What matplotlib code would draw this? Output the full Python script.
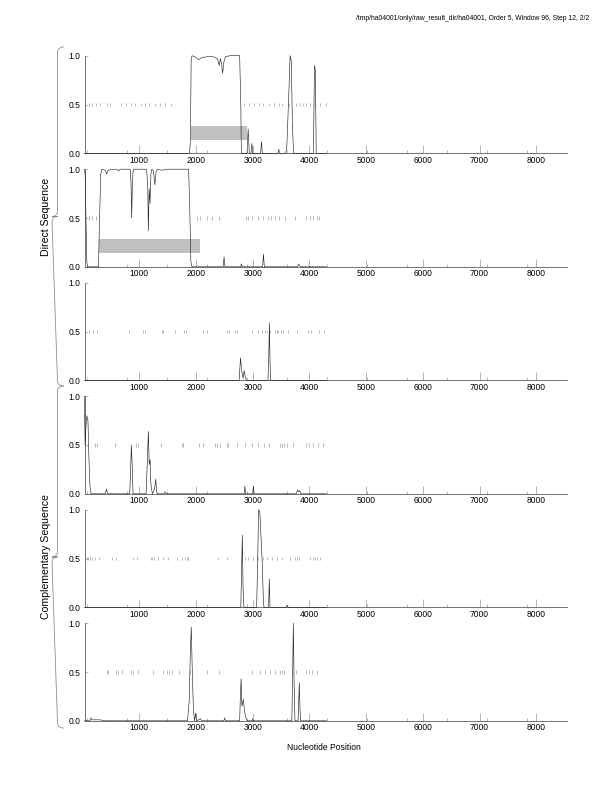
import numpy as np
import matplotlib
matplotlib.use("Agg")
import matplotlib.pyplot as plt

plt.rcParams['font.family'] = ['Liberation Sans', 'DejaVu Sans']

TITLE = "/tmp/ha04001/only/raw_result_dir/ha04001, Order 5, Window 96, Step 12, 2/2"
X_LABEL = "Nucleotide Position"
GROUP_LABELS = ["Direct Sequence", "Complementary Sequence"]
X_TICKS = [1000, 2000, 3000, 4000, 5000, 6000, 7000, 8000]
X_MINOR = [72, 778, 1483, 2189, 2894, 3600, 4305, 5011, 5716, 6422, 7127, 7833]
Y_TICKS = [0.0, 0.5, 1.0]

# coding potential curves (position, value), one per frame
p1_x = [30, 1880, 1900, 1915, 1930, 1980, 2050, 2100, 2200, 2300, 2380, 2410, 2430, 2450, 2470, 2490,
        2520, 2600, 2770, 2790, 2800, 2900, 2920, 2940, 2970, 2985, 3000, 3140, 3155, 3170, 3440, 3460,
        3480, 3580, 3600, 3630, 3660, 3680, 3700, 3720, 4070, 4090, 4105, 4120, 4300]
p1_y = [0, 0, 0.1, 0.95, 1.0, 0.99, 0.96, 0.98, 0.99, 0.99, 0.97, 0.9, 0.97, 0.92, 0.82, 0.93,
        0.99, 1.0, 1.0, 0.5, 0, 0, 0.25, 0, 0, 0.1, 0, 0, 0.12, 0, 0, 0.04,
        0, 0, 0.05, 0.5, 1.0, 0.95, 0.3, 0, 0, 0.9, 0.85, 0, 0]

p2_x = [30, 45, 60, 75, 90, 280, 300, 320, 340, 400, 425, 450, 600, 640, 660, 840, 855, 866, 880, 895,
        1130, 1150, 1160, 1175, 1190, 1205, 1220, 1250, 1275, 1295, 1320, 1400, 1500, 1870, 1890, 1910,
        1930, 2480, 2495, 2510, 2790, 2800, 2815, 3175, 3190, 3205, 3790, 3810, 3840, 4300]
p2_y = [1.0, 0.95, 0.5, 0.05, 0, 0, 0.5, 0.95, 1.0, 0.99, 0.95, 0.99, 1.0, 0.98, 1.0, 1.0, 0.85, 0.5, 0.9, 1.0,
        1.0, 0.8, 0.37, 0.8, 0.65, 0.95, 1.0, 0.98, 0.84, 0.97, 1.0, 0.99, 1.0, 1.0, 0.6, 0.05,
        0, 0, 0.1, 0, 0, 0.03, 0, 0, 0.13, 0, 0, 0.03, 0, 0]

p3_x = [30, 2760, 2785, 2805, 2830, 2850, 2870, 2890, 3270, 3285, 3295, 3305, 3315, 4300]
p3_y = [0, 0, 0.23, 0.1, 0.02, 0.1, 0.03, 0, 0, 0.3, 0.59, 0.2, 0, 0]

p4_x = [30, 45, 60, 75, 95, 110, 130, 150, 400, 420, 440, 830, 845, 860, 875, 890, 1120, 1140, 1160,
        1175, 1190, 1205, 1230, 1270, 1290, 1305, 1320, 1440, 1455, 1480, 2850, 2862, 2875, 3000, 3012,
        3025, 3770, 3790, 3810, 3830, 3850, 4300]
p4_y = [1.0, 0.5, 0.7, 0.8, 0.75, 0.4, 0.08, 0, 0, 0.05, 0, 0, 0.2, 0.5, 0.3, 0, 0, 0.3, 0.64,
        0.3, 0.35, 0.1, 0, 0.05, 0.15, 0.02, 0, 0, 0.02, 0, 0, 0.08, 0, 0, 0.08,
        0, 0, 0.04, 0.02, 0.03, 0, 0]

p5_x = [30, 2790, 2805, 2817, 2830, 2845, 3070, 3088, 3105, 3125, 3140, 3165, 3190, 3200, 3280, 3293,
        3305, 3590, 3605, 3630, 4300]
p5_y = [0, 0, 0.4, 0.74, 0.2, 0, 0, 0.5, 1.0, 0.98, 0.8, 0.5, 0.05, 0, 0, 0.29,
        0, 0, 0.02, 0, 0]

p6_x = [30, 130, 150, 170, 300, 400, 1850, 1880, 1900, 1917, 1935, 1955, 1975, 1995, 2010, 2080, 2100,
        2490, 2505, 2520, 2770, 2785, 2795, 2810, 2835, 2855, 2880, 2900, 2990, 3000, 3010, 3690, 3705,
        3717, 3730, 3745, 3800, 3812, 3822, 3835, 3845, 4300]
p6_y = [0, 0, 0.03, 0.01, 0.01, 0, 0, 0.2, 0.7, 0.96, 0.5, 0.1, 0, 0.08, 0, 0.02, 0,
        0, 0.03, 0, 0, 0.3, 0.43, 0.15, 0.22, 0.1, 0.03, 0, 0, 0.02, 0, 0, 0.5,
        1.0, 0.4, 0, 0, 0.2, 0.39, 0.1, 0, 0]

# stop codons per frame (drawn at 0.5)
stops1 = [117, 170, 235, 300, 430, 476, 672, 757, 848, 920, 1032, 1097, 1176, 1280, 1372, 1457, 1554,
          2848, 2926, 3024, 3110, 3187, 3292, 3370, 3462, 3515, 3632, 3762, 3841, 3893, 3939, 4004,
          4102, 4187, 4298]
stops2 = [119, 160, 236, 2012, 2071, 2188, 2277, 2411, 2882, 2923, 2982, 3099, 3187, 3265, 3317, 3393,
          3469, 3570, 3746, 3940, 4011, 4069, 4129, 4175]
stops3 = [119, 178, 248, 819, 1059, 1100, 1394, 1424, 1630, 1788, 1818, 2129, 2188, 2541, 2582, 2688,
          2729, 2982, 3099, 3158, 3217, 3258, 3305, 3393, 3423, 3452, 3493, 3540, 3628, 3776, 3981,
          4023, 4175, 4258]
stops4 = [219, 260, 571, 942, 983, 1377, 1747, 1777, 2059, 2129, 2335, 2365, 2423, 2541, 2570, 2717,
          2864, 2982, 3099, 3199, 3293, 3481, 3517, 3558, 3599, 3717, 3940, 3999, 4069, 4158, 4246]
stops5 = [72, 101, 131, 160, 219, 295, 513, 589, 895, 965, 1201, 1230, 1259, 1336, 1424, 1512, 1659,
          1747, 1806, 1836, 1865, 2394, 2541, 2817, 2864, 2923, 3011, 3099, 3176, 3247, 3335, 3423,
          3511, 3658, 3746, 3776, 3822, 4011, 4058, 4099, 4140, 4187]
stops6 = [425, 454, 589, 630, 689, 854, 895, 983, 1247, 1424, 1483, 1530, 1571, 1706, 1894, 2199, 2411,
          2982, 3130, 3217, 3305, 3393, 3481, 3511, 3552, 3687, 3764, 3940, 3999, 4040, 4129]

# predicted genes (start, end) shown as grey boxes
genes1 = [(1917, 2894)]
genes2 = [(295, 2076)]
genes3 = []
genes4 = []
genes5 = []
genes6 = []

curves = [(p1_x, p1_y), (p2_x, p2_y), (p3_x, p3_y), (p4_x, p4_y), (p5_x, p5_y), (p6_x, p6_y)]
stops = [stops1, stops2, stops3, stops4, stops5, stops6]
genes = [genes1, genes2, genes3, genes4, genes5, genes6]

W, H = 612, 792
fig = plt.figure(figsize=(8.5, 11), dpi=72)

left_px, right_px = 84.5, 566.7
top0, ph, step = 55.7, 97.6, 113.5

for i in range(6):
    top = top0 + step * i
    ax = fig.add_axes([left_px / W, 1 - (top + ph) / H, (right_px - left_px) / W, ph / H])
    ax.set_xlim(34, 8537)
    ax.set_ylim(0, 1)
    for side in ['top', 'right']:
        ax.spines[side].set_visible(False)
    for side in ['left', 'bottom']:
        ax.spines[side].set_color('#555555')
        ax.spines[side].set_linewidth(0.8)

    for g0, g1 in genes[i]:
        ax.fill_between([g0, g1], 0.14, 0.28, color='#c0c0c0', lw=0, zorder=1)

    ax.vlines(stops[i], 0.48, 0.52, color='#909090', lw=0.6, zorder=2)
    xs, ys = curves[i]
    ax.plot(xs, ys, color='#222222', lw=0.6, clip_on=False, zorder=3)

    ax.set_yticks(Y_TICKS)
    ax.set_yticklabels(["%.1f" % v for v in Y_TICKS])
    ax.set_xticks(X_TICKS)
    ax.set_xticklabels([str(v) for v in X_TICKS])
    ax.set_xticks(X_MINOR, minor=True)
    ax.tick_params(axis='x', which='major', direction='in', length=8, width=0.6,
                   color='#888888', labelsize=8.5, pad=2.5)
    ax.tick_params(axis='x', which='minor', direction='in', length=3.5, width=0.6, color='#888888')
    ax.tick_params(axis='y', direction='in', length=3, width=0.6, color='#888888',
                   labelsize=8.5, pad=4)

# overlay for text and braces in pixel coordinates
ov = fig.add_axes([0, 0, 1, 1], facecolor='none')
ov.set_xlim(0, W)
ov.set_ylim(H, 0)
ov.axis('off')

ov.text(589, 18, TITLE, ha='right', va='center', fontsize=6.7)
ov.text(324, 747, X_LABEL, ha='center', va='center', fontsize=8.5)


def brace(y0, y1, x=57.5, tip=52, end=63.5, r=5):
    ym = (y0 + y1) / 2
    t = np.linspace(0, np.pi / 2, 12)
    # top curl
    xs = list(end - (end - x) * np.sin(t))
    ys = list(y0 + r * (1 - np.cos(t)))
    xs += [x]
    ys += [ym - r]
    xs += list(x - (x - tip) * (1 - np.cos(t)))
    ys += list(ym - r + r * np.sin(t))
    xs += list(tip + (x - tip) * (1 - np.cos(t[::-1])))
    ys += list(ym + r - r * np.sin(t[::-1]))
    xs += [x]
    ys += [y1 - r]
    xs += list(end - (end - x) * np.sin(t[::-1]))
    ys += list(y1 - r * (1 - np.cos(t[::-1])))
    ov.plot(xs, ys, color='#8a8a8a', lw=0.8)
    return ym


ym1 = brace(47, 386)
ym2 = brace(386, 728)
ov.text(46, ym1, GROUP_LABELS[0], rotation=90, ha='center', va='center', fontsize=10.5)
ov.text(46, ym2, GROUP_LABELS[1], rotation=90, ha='center', va='center', fontsize=10.5)

fig.savefig("out.png", dpi=72)
